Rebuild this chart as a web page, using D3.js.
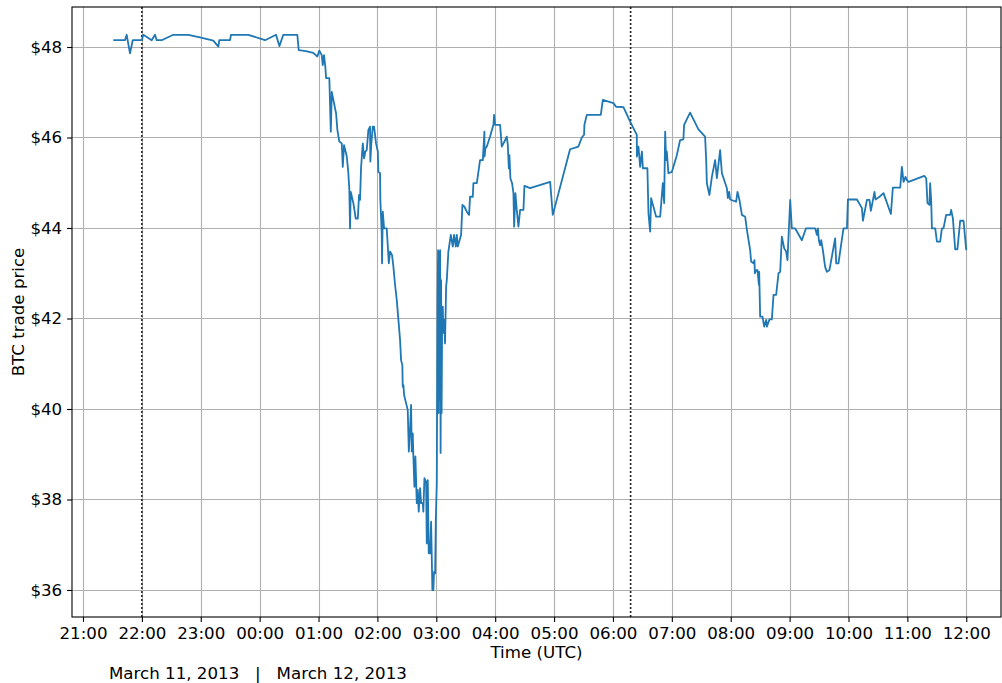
<!DOCTYPE html>
<html>
<head>
<meta charset="utf-8">
<script src="https://cdn.jsdelivr.net/npm/d3@7"></script>
<style>
  body { margin: 0; background: #fff; }
  svg { display: block; }
  text { font-family: "DejaVu Sans", sans-serif; fill: #000; }
</style>
</head>
<body>
<svg id="chart" width="1002" height="683"></svg>
<script>
// Trades are logged as minutes after 21:00 UTC on March 11, 2013
const sessionStart = Date.UTC(2013, 2, 11, 21, 0);

const tradeMinutes = [
  30.9, 42.8, 44.5, 47.9, 50.7, 59.8, 61.5, 70.0, 73.4, 75.1, 80.2, 92.0, 107.3, 119.2, 132.8, 137.9, 138.9,
  149.8, 150.8, 168.5, 185.5, 196.7, 200.1, 204.1, 218.4, 219.8, 227.0, 234.7, 238.8, 240.8, 243.3, 244.3,
  245.6, 247.0, 247.7, 251.0, 252.5, 253.5, 255.1, 257.9, 259.2, 261.2, 263.7, 264.7, 266.0, 268.8, 270.4,
  271.4, 272.1, 272.8, 275.5, 277.9, 280.0, 281.3, 282.3, 283.3, 285.1, 286.4, 287.7, 289.1, 290.8, 292.5,
  292.8, 293.8, 295.3, 296.6, 298.6, 300.4, 301.0, 302.7, 303.0, 304.4, 304.7, 305.5, 306.8, 309.5, 310.9,
  311.6, 312.9, 314.9, 316.3, 318.0, 319.7, 321.4, 323.1, 324.1, 325.4, 325.8, 326.5, 327.2, 329.2, 330.9,
  332.0, 333.3, 334.3, 335.0, 336.0, 336.6, 337.7, 338.7, 340.1, 341.1, 342.1, 343.5, 344.5, 346.2, 346.8,
  347.9, 349.6, 350.3, 351.3, 352.3, 353.7, 354.7, 355.7, 356.0, 357.0, 357.7, 358.8, 359.5, 360.5, 360.8,
  361.3, 361.8, 362.3, 362.8, 363.4, 363.9, 364.4, 364.9, 365.4, 365.9, 366.6, 367.2, 368.2, 368.9, 370.0,
  370.7, 372.3, 374.8, 376.8, 378.1, 379.9, 380.9, 381.9, 385.3, 386.6, 388.6, 391.1, 393.4, 394.4, 397.2,
  397.8, 401.3, 404.6, 407.4, 409.0, 409.2, 410.0, 411.5, 414.8, 418.2, 418.9, 419.9, 425.0, 426.7, 430.1,
  431.8, 432.9, 433.9, 434.5, 435.5, 437.2, 438.6, 439.3, 440.6, 442.0, 443.7, 445.4, 448.8, 449.8, 455.6,
  476.0, 478.7, 496.3, 504.8, 508.3, 510.6, 510.9, 513.4, 527.6, 529.7, 540.5, 543.2, 550.7, 557.5, 564.3,
  564.4, 566.0, 567.7, 569.5, 570.5, 575.1, 576.2, 577.9, 578.9, 584.0, 588.1, 590.8, 592.2, 593.2, 594.2,
  594.9, 596.5, 600.0, 605.1, 608.4, 611.8, 612.5, 618.6, 627.1, 633.9, 635.0, 635.7, 638.3, 640.8, 644.1,
  645.9, 649.2, 651.0, 656.1, 657.1, 658.4, 659.4, 665.5, 666.9, 668.9, 671.4, 674.7, 676.5, 679.8, 680.8,
  683.2, 684.2, 684.6, 685.9, 687.3, 688.7, 689.0, 690.0, 692.4, 694.1, 696.1, 696.8, 699.5, 701.9, 703.6,
  706.3, 708.7, 710.4, 712.1, 714.5, 716.5, 717.8, 720.6, 722.3, 725.7, 732.5, 736.6, 746.1, 747.8, 748.8,
  749.8, 751.1, 752.2, 753.9, 756.2, 758.0, 760.6, 766.4, 767.5, 769.8, 771.5, 774.9, 778.4, 779.4, 788.6,
  793.7, 794.7, 798.8, 801.4, 802.8, 806.5, 807.5, 811.6, 815.7, 823.2, 825.2, 832.7, 834.4, 836.1, 838.1,
  839.5, 841.2, 857.2, 859.2, 860.5, 862.5, 863.2, 864.3, 865.0, 868.4, 870.1, 873.4, 875.2, 876.8, 879.5,
  883.6, 884.6, 886.4, 888.7, 891.0, 893.8, 897.2, 900.0
];

const tradePrices = [
  48.15, 48.15, 48.27, 47.86, 48.15, 48.15, 48.27, 48.15, 48.27, 48.15, 48.15, 48.27, 48.27, 48.21, 48.14, 48.01, 48.15,
  48.15, 48.27, 48.27, 48.15, 48.27, 48.02, 48.27, 48.27, 47.93, 47.91, 47.87, 47.79, 47.92, 47.82, 47.60,
  47.82, 47.54, 47.31, 47.31, 46.13, 47.01, 46.83, 46.53, 46.17, 45.91, 45.87, 45.35, 45.83, 45.58, 45.21,
  44.84, 43.99, 44.80, 44.55, 44.21, 44.21, 44.73, 44.62, 45.32, 45.87, 45.54, 45.69, 45.72, 46.17, 46.24,
  45.47, 45.87, 46.24, 46.24, 45.87, 45.69, 45.24, 45.21, 44.62, 43.88, 43.22, 44.36, 43.99, 43.99, 43.48,
  43.22, 43.48, 43.40, 43.14, 42.74, 42.41, 41.97, 41.52, 41.08, 40.97, 40.49, 40.53, 40.31, 40.13, 39.98,
  39.06, 39.57, 40.09, 39.06, 39.46, 38.98, 38.28, 38.95, 37.92, 38.21, 37.73, 38.25, 37.92, 37.92, 37.73,
  38.47, 38.39, 37.03, 38.43, 36.81, 36.81, 37.51, 36.37, 36.00, 36.00, 36.40, 36.37, 37.55, 38.36, 39.98,
  42.41, 43.51, 39.91, 43.47, 40.20, 43.51, 39.03, 42.85, 39.91, 41.75, 42.26, 41.68, 41.97, 41.45, 42.70,
  42.85, 43.48, 43.85, 43.59, 43.85, 43.59, 43.85, 43.59, 43.85, 44.51, 44.47, 44.36, 44.29, 44.69, 44.69,
  44.99, 44.99, 45.50, 45.50, 46.13, 45.58, 45.76, 45.80, 46.02, 46.28, 46.50, 46.28, 46.28, 45.80, 45.94,
  46.02, 45.83, 45.32, 45.61, 45.10, 44.99, 44.77, 44.03, 44.77, 44.40, 44.03, 44.40, 44.40, 44.93, 44.88,
  45.02, 44.29, 45.74, 45.80, 46.00, 46.06, 46.28, 46.50, 46.50, 46.83, 46.76, 46.68, 46.67, 46.35, 46.06,
  45.58, 45.80, 45.35, 45.69, 45.32, 45.32, 44.32, 43.92, 44.66, 44.25, 44.25, 44.99, 44.55, 46.13, 45.50,
  45.69, 45.21, 45.24, 45.61, 45.94, 45.96, 46.28, 46.55, 46.18, 46.02, 45.50, 44.99, 44.73, 45.13, 45.50,
  45.10, 45.72, 45.21, 44.88, 44.66, 44.80, 44.63, 44.58, 44.80, 44.62, 44.29, 44.25, 43.96, 43.51, 43.26,
  43.22, 43.29, 43.00, 43.07, 43.07, 42.74, 43.03, 42.04, 42.04, 41.82, 41.97, 41.82, 41.98, 41.98, 42.52,
  42.52, 43.00, 43.03, 43.81, 43.55, 43.48, 43.29, 44.62, 43.99, 43.99, 43.73, 43.99, 43.99, 43.85, 43.99,
  43.73, 43.62, 43.73, 43.51, 43.14, 43.03, 43.07, 43.77, 43.22, 43.22, 43.48, 43.99, 43.99, 44.63, 44.63,
  44.44, 44.16, 44.62, 44.62, 44.38, 44.80, 44.63, 44.69, 44.77, 44.31, 44.89, 44.89, 45.35, 45.02, 45.13,
  45.06, 45.02, 45.15, 45.10, 44.55, 44.51, 44.99, 44.58, 43.99, 43.99, 43.70, 43.70, 43.99, 43.99, 44.29,
  44.29, 44.40, 44.21, 43.53, 43.53, 44.16, 44.16, 43.51
];

const priceTicks = [36, 38, 40, 42, 44, 46, 48];
const markerTimes = ["2013-03-11T22:00:00Z", "2013-03-12T06:18:00Z"];
const firstTick = "2013-03-11T21:00:00Z";
const lastTick = "2013-03-12T12:00:00Z";
const xTitle = "Time (UTC)";
const yTitle = "BTC trade price";
const dateCaption = "March 11, 2013   |   March 12, 2013";

const trades = tradeMinutes.map((m, i) => ({
  time: new Date(sessionStart + m * 60000),
  price: tradePrices[i]
}));

const svg = d3.select("#chart");
const plot = { left: 72, top: 7, right: 1001, bottom: 617 };
const fontPx = 16.67;

const x = d3.scaleUtc()
  .domain([new Date(sessionStart - 11.2 * 60000), new Date(sessionStart + 935.4 * 60000)])
  .range([plot.left, plot.right]);

const y = d3.scaleLinear()
  .domain([35.403, 48.884])
  .range([plot.bottom, plot.top]);

const hourTicks = d3.utcHour.range(new Date(firstTick), d3.utcHour.offset(new Date(lastTick), 1));

// Grid
const grid = svg.append("g").attr("stroke", "#b0b0b0").attr("stroke-width", 1.1);
grid.selectAll("line.v").data(hourTicks).join("line")
  .attr("x1", d => Math.round(x(d)) + 0.5).attr("x2", d => Math.round(x(d)) + 0.5)
  .attr("y1", plot.top).attr("y2", plot.bottom);
grid.selectAll("line.h").data(priceTicks).join("line")
  .attr("x1", plot.left).attr("x2", plot.right)
  .attr("y1", d => Math.round(y(d)) + 0.5).attr("y2", d => Math.round(y(d)) + 0.5);

// Event markers
svg.append("g").selectAll("line").data(markerTimes).join("line")
  .attr("x1", d => x(new Date(d))).attr("x2", d => x(new Date(d)))
  .attr("y1", plot.top).attr("y2", plot.bottom)
  .attr("stroke", "#222").attr("stroke-width", 1.6)
  .attr("stroke-dasharray", "2,2");

// Price line
svg.append("path")
  .datum(trades)
  .attr("fill", "none")
  .attr("stroke", "#1f77b4")
  .attr("stroke-width", 1.8)
  .attr("stroke-linejoin", "round")
  .attr("d", d3.line().x(d => x(d.time)).y(d => y(d.price)));

// Frame
svg.append("rect")
  .attr("x", plot.left).attr("y", plot.top)
  .attr("width", plot.right - plot.left).attr("height", plot.bottom - plot.top)
  .attr("fill", "none").attr("stroke", "#000").attr("stroke-width", 1.1);

// Axes
const xAxis = svg.append("g")
  .attr("transform", `translate(0,${plot.bottom})`)
  .call(d3.axisBottom(x).tickValues(hourTicks).tickFormat(d3.utcFormat("%H:%M"))
    .tickSize(4.9).tickPadding(4.9));
const yAxis = svg.append("g")
  .attr("transform", `translate(${plot.left},0)`)
  .call(d3.axisLeft(y).tickValues(priceTicks).tickFormat(d => "$" + d)
    .tickSize(4.9).tickPadding(4.9));

[xAxis, yAxis].forEach(g => {
  g.select(".domain").remove();
  g.selectAll(".tick line").attr("stroke", "#000").attr("stroke-width", 1.1);
  g.selectAll(".tick text").attr("font-size", fontPx).attr("font-family", "DejaVu Sans").attr("fill", "#000");
});

// Titles
svg.append("text")
  .attr("x", (plot.left + plot.right) / 2).attr("y", 658)
  .attr("text-anchor", "middle").attr("font-size", fontPx)
  .text(xTitle);

svg.append("text")
  .attr("transform", `translate(24,${(plot.top + plot.bottom) / 2}) rotate(-90)`)
  .attr("text-anchor", "middle").attr("font-size", fontPx)
  .text(yTitle);

svg.append("text")
  .attr("x", 109).attr("y", 679)
  .attr("font-size", fontPx)
  .style("white-space", "pre")
  .text(dateCaption);
</script>
</body>
</html>
